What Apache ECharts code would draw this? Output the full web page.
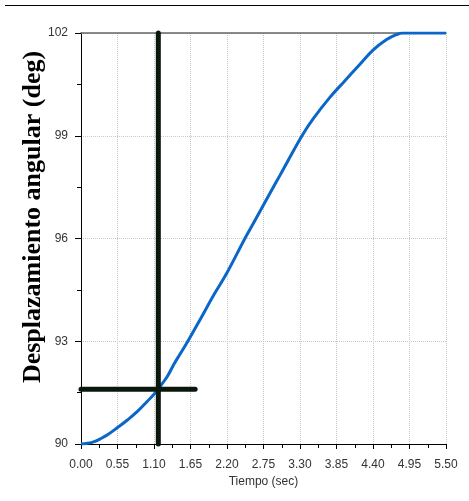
<!DOCTYPE html>
<html>
<head>
<meta charset="utf-8">
<script src="https://cdn.jsdelivr.net/npm/echarts@6/dist/echarts.min.js"></script>
<style>
html,body{margin:0;padding:0;background:#fff;}
#chart{width:469px;height:501px;}
</style>
</head>
<body>
<div id="chart"></div>
<script>
// Data
const timeValues = [0, 0.1, 0.2, 0.3, 0.4, 0.55, 0.7, 0.85, 1.0, 1.1, 1.2, 1.3, 1.4, 1.5, 1.61, 1.8, 2.0, 2.2, 2.47, 2.6, 2.87, 3.0, 3.33, 3.5, 3.75, 3.95, 4.2, 4.4, 4.6, 4.75, 4.85, 5.0, 5.5];
const angleValues = [90, 90.02, 90.07, 90.16, 90.27, 90.48, 90.7, 90.95, 91.25, 91.45, 91.7, 91.97, 92.33, 92.65, 93.0, 93.65, 94.35, 95.0, 96.0, 96.45, 97.4, 97.85, 99.0, 99.5, 100.12, 100.55, 101.08, 101.5, 101.8, 101.95, 102, 102, 102];
const xTickLabels = ['0.00','0.55','1.10','1.65','2.20','2.75','3.30','3.85','4.40','4.95','5.50'];
const yTickLabels = ['90','93','96','99','102'];
const cursorX = 1.165;
const cursorY = 91.6;
const cursorYRange = [90, 102];
const cursorXRange = [0, 1.72];
const yAxisTitle = 'Desplazamiento angular (deg)';
const xAxisTitle = 'Tiempo (sec)';

const curve = timeValues.map((t, i) => [t, angleValues[i]]);
const vLine = cursorYRange.map(v => [cursorX, v]);
const hLine = cursorXRange.map(t => [t, cursorY]);

const chart = echarts.init(document.getElementById('chart'), null, {renderer: 'canvas'});
const labelStyle = {color: '#333', fontFamily: 'Liberation Sans, Arial, sans-serif', fontSize: 12};
chart.setOption({
  animation: false,
  grid: {left: 81, right: 23, top: 33, bottom: 57},
  xAxis: [{
    type: 'value', min: 0, max: 5.5, interval: 0.55,
    axisLine: {lineStyle: {color: '#000', width: 1}},
    axisTick: {show: true, length: 5, lineStyle: {color: '#000'}},
    minorTick: {show: true, splitNumber: 2, length: 4, lineStyle: {color: '#000'}},
    axisLabel: Object.assign({margin: 15, formatter: (v) => xTickLabels[Math.round(v / 0.55)] || ''}, labelStyle),
    splitLine: {show: true, lineStyle: {color: '#c8c8c8', type: 'dotted', width: 1}},
    name: xAxisTitle, nameLocation: 'middle', nameGap: 32,
    nameTextStyle: {color: '#333', fontFamily: 'Liberation Sans, Arial, sans-serif', fontSize: 12}
  }, {
    type: 'value', position: 'top', min: 0, max: 5.5, interval: 0.55,
    axisLine: {show: true, lineStyle: {color: '#666', width: 1.5}},
    axisTick: {show: false}, axisLabel: {show: false}, splitLine: {show: false}
  }],
  yAxis: [{
    type: 'value', min: 90, max: 102, interval: 3,
    axisLine: {show: true, lineStyle: {color: '#000', width: 1}},
    axisTick: {show: true, length: 6, lineStyle: {color: '#000'}},
    minorTick: {show: true, splitNumber: 2, length: 4, lineStyle: {color: '#000'}},
    axisLabel: Object.assign({margin: 13, formatter: (v) => yTickLabels[Math.round((v - 90) / 3)] || ''}, labelStyle),
    splitLine: {show: true, lineStyle: {color: '#c8c8c8', type: 'dotted', width: 1}}
  }, {
    type: 'value', position: 'right', min: 90, max: 102, interval: 3,
    axisLine: {show: true, lineStyle: {color: '#000', width: 1}},
    axisTick: {show: false}, axisLabel: {show: false}, splitLine: {show: false}
  }],
  graphic: [
    {type: 'line', shape: {x1: 5, y1: 5.5, x2: 469, y2: 5.5}, style: {stroke: '#000', lineWidth: 1}},
    {type: 'text', x: 33, y: 217, rotation: Math.PI / 2,
     style: {text: yAxisTitle, fill: '#000', font: 'bold 26px "Liberation Serif", "Times New Roman", serif', textAlign: 'center', textVerticalAlign: 'middle'}}
  ],
  series: [
    {type: 'line', data: curve, showSymbol: false, smooth: 0.4, lineStyle: {color: '#0a67c9', width: 3}, z: 3},
    {type: 'line', data: vLine, showSymbol: false, clip: false, lineStyle: {color: '#0a170c', width: 5, cap: 'round'}, z: 4},
    {type: 'line', data: hLine, showSymbol: false, clip: false, lineStyle: {color: '#0a170c', width: 5, cap: 'round'}, z: 4}
  ]
});
</script>
</body>
</html>
